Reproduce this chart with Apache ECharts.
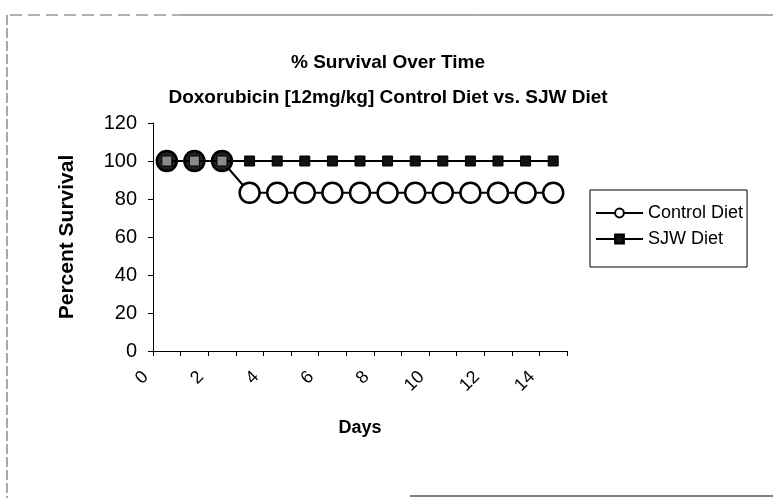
<!DOCTYPE html>
<html>
<head>
<meta charset="utf-8">
<script src="https://cdn.jsdelivr.net/npm/echarts@6/dist/echarts.min.js"></script>
<style>
html,body{margin:0;padding:0;background:#fff;}
#chart{width:773px;height:498px;}
</style>
</head>
<body>
<div id="chart"></div>
<script>
const days = ['0','1','2','3','4','5','6','7','8','9','10','11','12','13','14'];
const controlDiet = [100,100,100,83.3,83.3,83.3,83.3,83.3,83.3,83.3,83.3,83.3,83.3,83.3,83.3];
const sjwDiet = [100,100,100,100,100,100,100,100,100,100,100,100,100,100,100];
const yTicks = {min:0, max:120, interval:20};

// where both series coincide, the circle shows dark behind the patterned square
const controlData = controlDiet.map((v, i) => v === sjwDiet[i]
  ? {value:v, itemStyle:{color:'#222'}} : v);
const sjwData = sjwDiet.map((v, i) => v === controlDiet[i]
  ? {value:v, itemStyle:{color:'#8a8a8a'}} : v);

const chart = echarts.init(document.getElementById('chart'), null, {renderer:'canvas'});
const FONT = 'Liberation Sans, Arial, sans-serif';
chart.setOption({
  backgroundColor:'#fff',
  animation:false,
  title:{
    text:'% Survival Over Time\nDoxorubicin [12mg/kg] Control Diet vs. SJW Diet',
    left:383, top:40, textAlign:'center',
    textStyle:{fontFamily:FONT, fontSize:19, fontWeight:'bold', color:'#000', lineHeight:35}
  },
  legend:{
    left:590, top:190, orient:'vertical',
    itemWidth:47, itemHeight:11, itemGap:8,
    padding:[14,4,19,5],
    borderColor:'#000', borderWidth:1, backgroundColor:'#fff',
    textStyle:{fontFamily:FONT, fontSize:18, color:'#000', lineHeight:18},
    data:['Control Diet','SJW Diet']
  },
  grid:{left:153, right:206, top:123, bottom:147},
  xAxis:{
    type:'category', data:days, boundaryGap:true,
    name:'Days', nameLocation:'middle', nameGap:68,
    nameTextStyle:{fontFamily:FONT, fontSize:18, fontWeight:'bold', color:'#000'},
    axisLine:{lineStyle:{color:'#000', width:1}},
    axisTick:{show:true, interval:0, length:5, lineStyle:{color:'#000'}},
    axisLabel:{interval:1, rotate:45, fontFamily:FONT, fontSize:18, color:'#000', margin:2,
               padding:[0,30,0,0]}
  },
  yAxis:{
    type:'value', min:yTicks.min, max:yTicks.max, interval:yTicks.interval,
    name:'Percent Survival', nameLocation:'middle', nameGap:75,
    nameTextStyle:{fontFamily:FONT, fontSize:21, fontWeight:'bold', color:'#000'},
    axisLine:{show:true, lineStyle:{color:'#000', width:1}},
    axisTick:{show:true, length:5, lineStyle:{color:'#000'}},
    splitLine:{show:false},
    axisLabel:{fontFamily:FONT, fontSize:20, color:'#000', margin:16, padding:[0,0,10,0]}
  },
  series:[
    {name:'Control Diet', type:'line', data:controlData, symbol:'circle', symbolSize:20,
     showAllSymbol:true, z:2,
     lineStyle:{color:'#000', width:2},
     itemStyle:{color:'#fff', borderColor:'#000', borderWidth:2.5}},
    {name:'SJW Diet', type:'line', data:sjwData, symbol:'rect', symbolSize:10,
     showAllSymbol:true, z:3,
     lineStyle:{color:'#000', width:2},
     itemStyle:{color:'#111', borderColor:'#000', borderWidth:1}}
  ],
  graphic:[
    {type:'line', shape:{x1:10, y1:15, x2:180, y2:15}, style:{stroke:'#666', lineWidth:1, lineDash:[12,6]}},
    {type:'line', shape:{x1:180, y1:15, x2:773, y2:15}, style:{stroke:'#555', lineWidth:1}},
    {type:'line', shape:{x1:7, y1:15, x2:7, y2:498}, style:{stroke:'#555', lineWidth:1, lineDash:[10,3]}},
    {type:'line', shape:{x1:410, y1:496, x2:773, y2:496}, style:{stroke:'#555', lineWidth:1.5}}
  ]
});
</script>
</body>
</html>
